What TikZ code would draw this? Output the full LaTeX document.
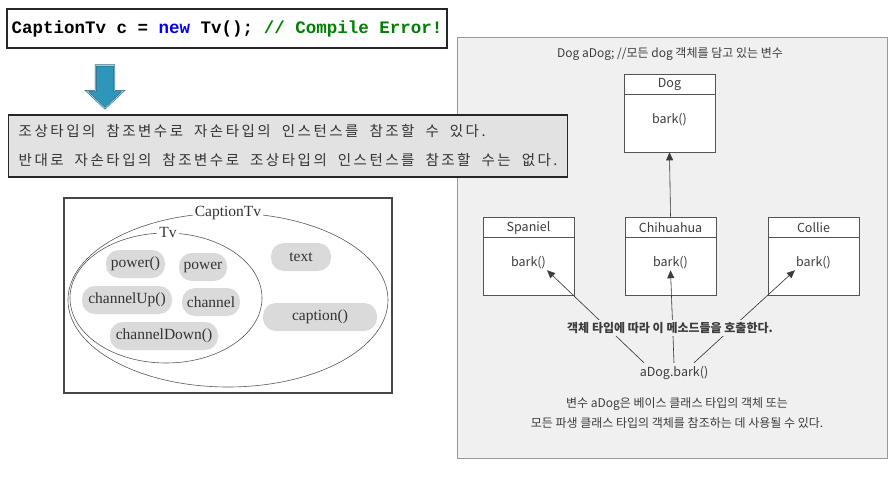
\documentclass[tikz,border=0pt]{standalone}
\usepackage{fontspec}
\setmonofont{Liberation Mono}
\newfontfamily\krfont{Noto Sans CJK KR}
\newfontfamily\setfont{Liberation Serif}
% letter spacing between Hangul syllables of the note box
\newXeTeXintercharclass\hangulclass
\makeatletter
\count@="AC00
\loop
  \XeTeXcharclass\count@=\hangulclass
  \advance\count@ 1
\ifnum\count@<"D7A4 \repeat
\makeatother
\XeTeXinterchartoks\hangulclass\hangulclass={\hskip2.5pt\relax}
\XeTeXinterchartoks\hangulclass 0={\hskip2.5pt\relax}
\newcommand\notefont{\krfont\fontsize{14.5}{29}\selectfont\XeTeXinterchartokenstate=1\relax}
\newcommand\wsp{\hspace{11pt}}
\usetikzlibrary{arrows.meta, positioning, shapes.geometric, shapes.arrows, calc}

\definecolor{codeblue}{RGB}{0,0,240}
\definecolor{codegreen}{RGB}{0,128,0}
\definecolor{arrowteal}{RGB}{46,150,184}
\definecolor{arrowdark}{RGB}{28,96,124}
\definecolor{notegray}{RGB}{226,226,226}
\definecolor{panelgray}{RGB}{240,240,240}
\definecolor{pillgray}{RGB}{218,218,218}
\definecolor{inkgray}{RGB}{60,60,60}

% one UML class box: name, position, title
\newcommand\dogclass[3]{%
  \node[umlbox] (#1) at (#2) {};
  \node[umltitle] (#1-t) at ([yshift=-11pt]#1.north) {#3};
  \draw[umlline] ([yshift=-21pt]#1.north west) -- ([yshift=-21pt]#1.north east);
  \node[umltext] (#1-m) at ([yshift=-46pt]#1.north) {bark()};
}

\begin{document}
\begin{tikzpicture}[
  x=1pt, y=-1pt,
  font=\krfont\fontsize{12}{14}\selectfont, >=Stealth,
  code/.style={draw=black!85, line width=1.2pt, fill=white, inner sep=0pt,
               minimum width=440pt, minimum height=39pt,
               font=\ttfamily\bfseries\fontsize{17.5}{20}\selectfont},
  note/.style={draw=black!85, line width=1.2pt, fill=notegray, inner xsep=6pt,
               minimum width=559pt, minimum height=62pt, align=left,
               font=\notefont, text=black!80},
  frame/.style={draw=gray!55!black, line width=1.2pt, fill=white,
                minimum width=328pt, minimum height=195pt},
  oval/.style={ellipse, draw=gray!70!black, line width=0.6pt, inner sep=0pt},
  ovallabel/.style={fill=white, inner sep=2pt, text=black!80,
                    font=\setfont\fontsize{15.5}{17}\selectfont},
  pill/.style={fill=pillgray, rounded corners=13pt, minimum height=28pt, inner xsep=4pt,
               text=black!80, font=\setfont\fontsize{15.5}{17}\selectfont},
  panel/.style={draw=gray!80, line width=1pt, fill=panelgray,
                minimum width=430pt, minimum height=420pt},
  umlbox/.style={draw=gray!65!black, line width=0.6pt, fill=white, inner sep=0pt,
                 minimum width=91pt, minimum height=78pt},
  umlline/.style={draw=gray!65!black, line width=0.6pt},
  umltitle/.style={inner sep=1pt, text=inkgray, font=\krfont\fontsize{12.5}{14}\selectfont},
  umltext/.style={inner sep=1pt, text=inkgray, font=\krfont\fontsize{12.5}{14}\selectfont},
  inh/.style={-{Triangle[length=8pt, width=7pt]}, line width=0.6pt, draw=inkgray, fill=inkgray},
  txt/.style={text=inkgray, align=center},
]
\useasboundingbox (0,0) rectangle (895,484);

% ---- right panel (drawn first, the note box sits over its edge) ----
\node[panel] (panel) at (672,248) {};
\node[txt] (decl) at (670,54) {Dog aDog; //모든 dog 객체를 담고 있는 변수};

\dogclass{dog}{669.5,113}{Dog}
\dogclass{spa}{528.5,256}{Spaniel}
\dogclass{chi}{670.5,256}{Chihuahua}
\dogclass{col}{813.5,256}{Collie}

\node[txt, font=\krfont\fontsize{12.5}{14}\selectfont] (adog) at (674,373) {aDog.bark()};

\draw[inh] (chi.north) -- (dog.south);
\draw[inh] ([xshift=-30pt]adog.north) -- (spa-m.south east);
\draw[inh] (adog.north) -- (chi-m.south);
\draw[inh] ([xshift=20pt]adog.north) -- (col-m.south west);

\node[txt, fill=panelgray, inner sep=2pt, font=\krfont\bfseries\fontsize{12}{14}\selectfont]
  (call) at (670,328) {객체 타입에 따라 이 메소드들을 호출한다.};

\node[txt, font=\krfont\fontsize{12}{20}\selectfont] (usage) at (677,413)
  {변수 aDog은 베이스 클래스 타입의 객체 또는\\모든 파생 클래스 타입의 객체를 참조하는 데 사용될 수 있다.};

% ---- code line, arrow, note ----
\node[code] (code) at (227,28.5)
  {CaptionTv c = \textcolor{codeblue}{new} Tv(); \textcolor{codegreen}{// Compile Error!}};

\node[single arrow, rotate=-90, fill=arrowteal, draw=arrowdark, line width=0.5pt,
      double=arrowteal!45!white, double distance=0.8pt,
      inner sep=9pt, minimum width=36pt, minimum height=43pt,
      single arrow head extend=9pt, single arrow tip angle=93] (down) at (105,82.5) {};

\node[note, anchor=west] (note) at (8,146)
  {조상타입의\wsp 참조변수로\wsp 자손타입의\wsp 인스턴스를\wsp 참조할\wsp 수\wsp 있다.\\
   반대로\wsp 자손타입의\wsp 참조변수로\wsp 조상타입의\wsp 인스턴스를\wsp 참조할\wsp 수는\wsp 없다.};

% ---- CaptionTv / Tv sets ----
\node[frame] (frame) at (228,295.5) {};
\node[oval, minimum width=320pt, minimum height=174pt] (captv) at (228,300) {};
\node[oval, minimum width=192pt, minimum height=130pt] (tv) at (166,298) {};
\node[ovallabel] (captv-l) at (captv.north) {CaptionTv};
\node[ovallabel] (tv-l) at ([xshift=2pt]tv.north) {Tv};

\node[pill, minimum width=59pt]  (powerm)  at (135.5,264) {power()};
\node[pill, minimum width=48pt]  (powerf)  at (203,267)   {power};
\node[pill, minimum width=90pt]  (chupm)   at (127,300)   {channelUp()};
\node[pill, minimum width=58pt]  (chanf)   at (211,302)   {channel};
\node[pill, minimum width=108pt] (chdownm) at (164,336)   {channelDown()};
\node[pill, minimum width=60pt]  (textf)   at (301,257)   {text};
\node[pill, minimum width=114pt] (captm)   at (320,317)   {caption()};

\end{tikzpicture}
\end{document}
